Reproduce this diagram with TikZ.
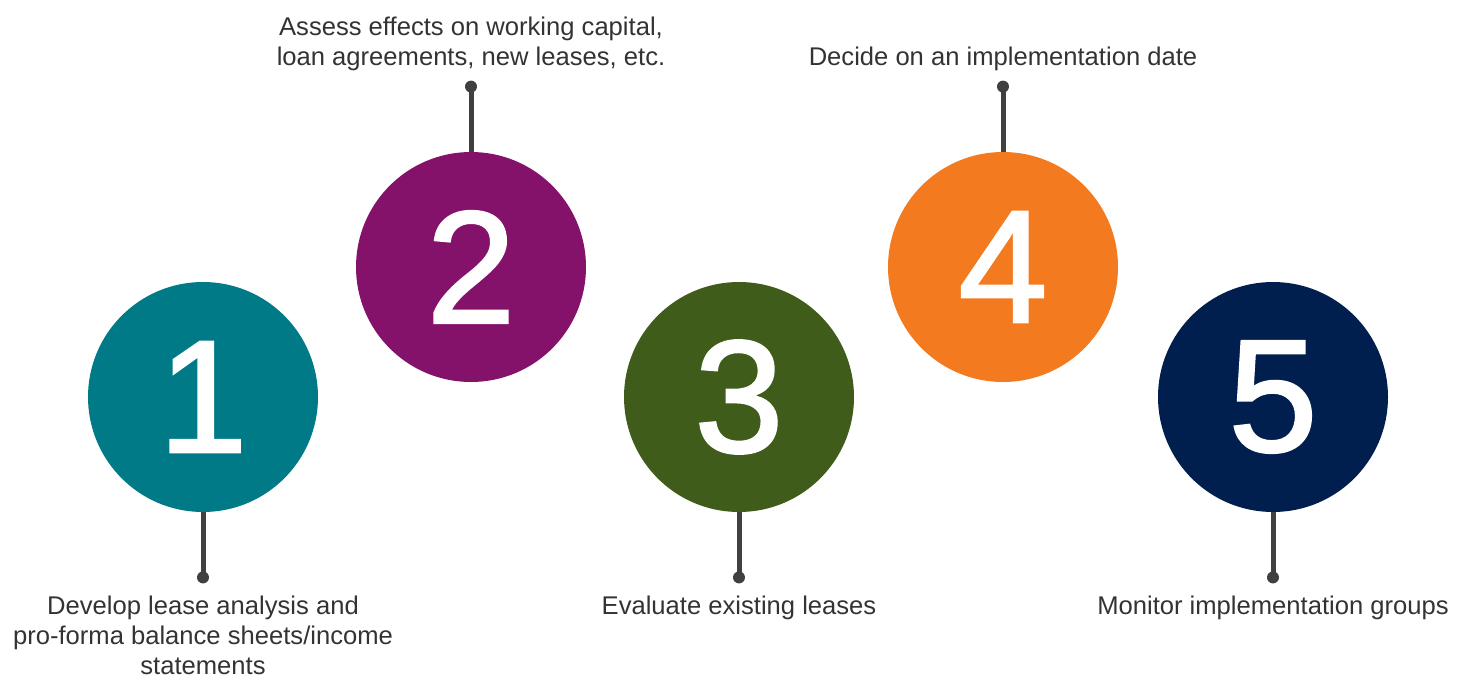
\documentclass[tikz,border=0pt]{standalone}
\usepackage{fontspec}
\setmainfont{Liberation Sans}
\newfontfamily\numfont[FakeBold=1.6]{Liberation Sans}
\usetikzlibrary{positioning}

\definecolor{stepteal}{HTML}{007A87}
\definecolor{steppurple}{HTML}{84116A}
\definecolor{stepgreen}{HTML}{3F5C1A}
\definecolor{steporange}{HTML}{F47A20}
\definecolor{stepnavy}{HTML}{001E4E}
\definecolor{stemgray}{HTML}{404040}
\definecolor{labelgray}{HTML}{333333}

\tikzset{
  numcircle/.style={circle, minimum size=115pt, inner sep=0pt, text=white, font=\numfont\fontsize{80}{80}\selectfont},
  pindot/.style={circle, fill=stemgray, minimum size=6pt, inner sep=0pt},
  stem/.style={draw=stemgray, line width=2.5pt},
  steplabel/.style={align=center, inner sep=0pt, text=labelgray, font=\fontsize{12.8}{15}\selectfont}
}

\begin{document}
\begin{tikzpicture}[x=0.5pt, y=0.5pt]

    \useasboundingbox (0,0) rectangle (1468,-681);

    % Nodes
    \node[numcircle, fill=stepteal] (node1) at (203,-397) {1};
    \node[numcircle, fill=steppurple] (node2) at (471,-267) {2};
    \node[numcircle, fill=stepgreen] (node3) at (739,-397) {3};
    \node[numcircle, fill=steporange] (node4) at (1003,-267) {4};
    \node[numcircle, fill=stepnavy] (node5) at (1273,-397) {5};

    % Pins
    \node[pindot] (dot1) at ([yshift=-32.5pt]node1.south) {};
    \node[pindot] (dot2) at ([yshift=32.5pt]node2.north) {};
    \node[pindot] (dot3) at ([yshift=-32.5pt]node3.south) {};
    \node[pindot] (dot4) at ([yshift=32.5pt]node4.north) {};
    \node[pindot] (dot5) at ([yshift=-32.5pt]node5.south) {};

    \draw[stem] (node1.south) -- (dot1.center);
    \draw[stem] (node2.north) -- (dot2.center);
    \draw[stem] (node3.south) -- (dot3.center);
    \draw[stem] (node4.north) -- (dot4.center);
    \draw[stem] (node5.south) -- (dot5.center);

    % Labels
    \node[steplabel, below=6pt of dot1] (text1) {Develop lease analysis and\\pro-forma balance sheets/income\\statements};
    \node[steplabel, above=4.5pt of dot2] (text2) {Assess effects on working capital,\\loan agreements, new leases, etc.};
    \node[steplabel, below=6pt of dot3] (text3) {Evaluate existing leases};
    \node[steplabel, above=4.5pt of dot4] (text4) {Decide on an implementation date};
    \node[steplabel, below=6pt of dot5] (text5) {Monitor implementation groups};

  \end{tikzpicture}
\end{document}
